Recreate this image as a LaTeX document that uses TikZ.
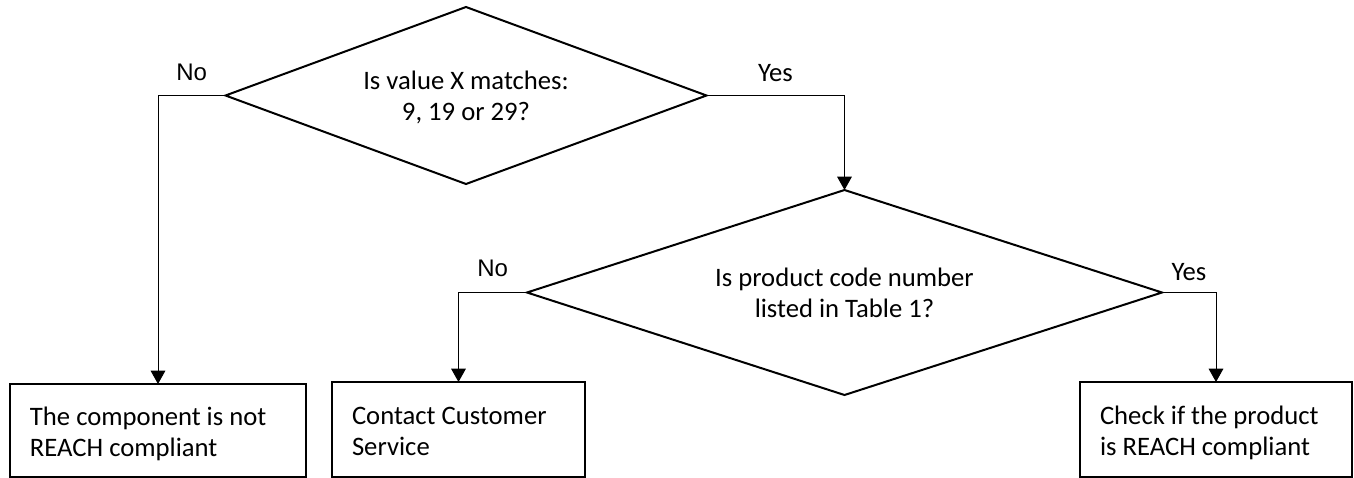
\documentclass[tikz,border=0pt]{standalone}
\usepackage{fontspec}
\setmainfont{Carlito}
\newfontfamily\arialfont{Liberation Sans}
\usetikzlibrary{shapes.geometric,arrows.meta}
\begin{document}
\begin{tikzpicture}[x=0.75pt,y=-0.75pt,
  decision/.style={diamond,draw,line width=1.5pt,inner sep=0pt,outer sep=0pt,shape aspect=2.7,align=center,text depth=0pt,font=\fontsize{20}{23}\selectfont},
  outcome/.style={rectangle,draw,line width=1.5pt,inner xsep=15pt,outer sep=0pt,align=flush left,text height=14pt,text depth=21pt,font=\fontsize{20}{23}\selectfont},
  flow/.style={line width=0.75pt,-{Triangle[length=10pt,width=11pt]}},
  noanswer/.style={inner sep=0pt,anchor=base,pos=.25,font=\arialfont\fontsize{18}{20}\selectfont},
  yesanswer/.style={inner sep=0pt,anchor=base,pos=.25,font=\fontsize{20}{23}\selectfont}]
\useasboundingbox (0,0) rectangle (1354,478);
\node[decision,minimum width=360.75pt,minimum height=132.75pt] (d1) at (466,95.5) {Is value X matches:\\9, 19 or 29?};
\node[decision,minimum width=476.25pt,minimum height=153.75pt] (d2) at (844.5,292.5) {Is product code number\\listed in Table 1?};
\node[outcome,text width=192pt,minimum height=69.75pt] (b1) at (158,430.5) {The component is not\\REACH compliant};
\node[outcome,text width=159.75pt,minimum height=71.25pt] (b2) at (458.5,429.5) {Contact Customer\\Service};
\node[outcome,text width=174pt,minimum height=71.25pt] (b3) at (1216,429.5) {Check if the product\\is REACH compliant};
\draw[flow] (d1.west) -| node[noanswer,yshift=11.25pt]{No} (b1.north);
\draw[flow] (d1.east) -| node[yesanswer,yshift=10.5pt]{Yes} (d2.north);
\draw[flow] (d2.west) -| node[noanswer,yshift=12pt]{No} (b2.north);
\draw[flow] (d2.east) -| node[yesanswer,yshift=9pt]{Yes} (b3.north);
\end{tikzpicture}
\end{document}
